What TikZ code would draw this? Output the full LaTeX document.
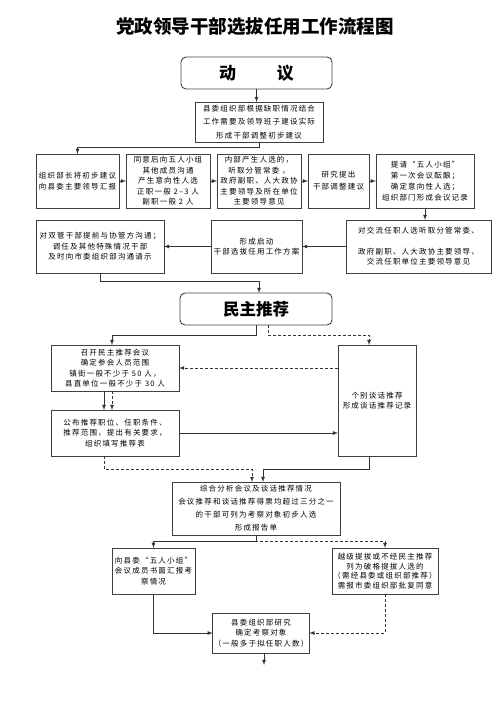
\documentclass[tikz,border=0pt]{standalone}
\usepackage{fontspec}
\setmainfont{Noto Sans CJK SC}
\newfontfamily\boxfont[LetterSpace=16]{Noto Sans CJK SC}
\usetikzlibrary{positioning}

\begin{document}
\begin{tikzpicture}
  [x=1pt,y=-1pt,
   boxN/.style={draw=black!75,line width=0.8pt,align=center,inner sep=1pt,outer sep=0pt,
     font=\boxfont\fontsize{7.5}{10.5}\selectfont},
   headN/.style={draw=black!75,line width=0.9pt,rounded corners=5pt,outer sep=0pt,
     minimum width=151pt,minimum height=32pt},
   rowA/.style={boxN,minimum height=54pt},
   rowB/.style={boxN,minimum height=53pt},
   arr/.style={-latex,line width=0.8pt,black!80},
   dsh/.style={arr,dash pattern=on 3pt off 2pt}]

  \useasboundingbox (0,0) rectangle (500,708);

  \node[font=\bfseries\fontsize{18.5}{20}\selectfont] (title) at (255,27) {党政领导干部选拔任用工作流程图};

  % 动议
  \node[headN,font=\bfseries\fontsize{17}{18}\selectfont] (dongyi) at (256.5,73) {动\hspace{2.4em}议};
  \node[boxN,minimum width=128pt,minimum height=40pt,font=\boxfont\fontsize{7.5}{13.3}\selectfont]
    (jianyi) at (259,122) {县委组织部根据缺职情况结合\\工作需要及领导班子建设实际\\形成干部调整初步建议};

  \node[rowA,minimum width=83pt] (huibao) at (77.5,181) {组织部长将初步建议\\向县委主要领导汇报};
  \node[rowA,minimum width=84pt,right=7pt of huibao] (goutong)
    {同意后向五人小组\\其他成员沟通\\产生意向性人选\\正职一般 2–3 人\\副职一般 2 人};
  \node[rowA,minimum width=84pt,right=7pt of goutong] (yijian)
    {内部产生人选的，\\听取分管常委 ，\\政府副职、人大政协\\主要领导及所在单位\\主要领导意见};
  \node[rowA,minimum width=61pt,right=7pt of yijian,font=\boxfont\fontsize{7.5}{12.3}\selectfont] (tichu)
    {研究提出\\干部调整建议};
  \node[rowA,minimum width=98pt,right=7pt of tichu,font=\boxfont\fontsize{7.5}{11}\selectfont] (yunniang)
    {提请“五人小组”\\第一次会议酝酿；\\确定意向性人选；\\组织部门形成会议记录};

  \node[rowB,minimum width=145pt] (jiaoliu) at (418.5,246.5)
    {对交流任职人选听取分管常委、\\[10pt]政府副职、人大政协主要领导、\\交流任职单位主要领导意见};
  \node[rowB,minimum width=91pt,left=44pt of jiaoliu] (fangan) {形成启动\\干部选拔任用工作方案};
  \node[rowB,minimum width=128pt,left=47pt of fangan] (qingshi)
    {对双管干部提前与协管方沟通；\\调任及其他特殊情况干部\\及时向市委组织部沟通请示};

  % 民主推荐
  \node[headN,minimum width=152pt,font=\bfseries\fontsize{16.5}{18}\selectfont] (minzhu) at (256,309) {民主推荐};
  \node[boxN,minimum width=128pt,minimum height=46pt] (huiyi) at (115,368)
    {召开民主推荐会议\\确定参会人员范围\\镇街一般不少于 50 人，\\县直单位一般不少于 30 人};
  \node[boxN,minimum width=128pt,minimum height=46pt] (gongbu) at (115,433)
    {公布推荐职位、任职条件、\\推荐范围，提出有关要求，\\组织填写推荐表};
  \node[boxN,minimum width=78pt,minimum height=111pt] (tanhua) at (377,400.5)
    {个别谈话推荐\\形成谈话推荐记录};

  \node[boxN,minimum width=168pt,minimum height=53pt,font=\boxfont\fontsize{7.5}{13}\selectfont] (fenxi) at (256,508.5)
    {综合分析会议及谈话推荐情况\\会议推荐和谈话推荐得票均超过三分之一\\的干部可列为考察对象初步人选\\形成报告单};
  \node[boxN,minimum width=83pt,minimum height=46pt] (wuren) at (153.5,571)
    {向县委“五人小组”\\会议成员书面汇报考\\察情况};
  \node[boxN,minimum width=106pt,minimum height=46pt,font=\boxfont\fontsize{7.5}{9.7}\selectfont] (poge) at (385,571)
    {越级提拔或不经民主推荐\\列为破格提拔人选的\\（需经县委或组织部推荐）\\需报市委组织部批复同意};
  \node[boxN,minimum width=96pt,minimum height=40pt] (duixiang) at (261,633)
    {县委组织部研究\\确定考察对象\\（一般多于拟任职人数）};

  % connectors
  \draw[arr] (dongyi.south) -- (dongyi.south |- jianyi.north);
  \draw[arr] (jianyi.south) -- ++(0,5) -| (huibao.north);
  \draw[arr] (huibao) -- (goutong);
  \draw[arr] (goutong) -- (yijian);
  \draw[arr] (yijian) -- (tichu);
  \draw[arr] (tichu) -- (yunniang);
  \draw[arr] (yunniang.south) -- (yunniang.south |- jiaoliu.north);
  \draw[arr] (jiaoliu) -- (fangan);
  \draw[arr] (fangan) -- (qingshi);
  \draw[arr] (qingshi.south) -- ++(0,8) -| ([xshift=3pt]minzhu.north);

  \draw[arr] (minzhu.south) -- ++(0,10) -| ([xshift=-3pt]huiyi.north);
  \draw[dsh] ([xshift=12pt]minzhu.south) -- ++(0,10) -| ([xshift=-8pt]tanhua.north);
  \draw[dsh] (tanhua.west |- huiyi.east) -- (huiyi.east);
  \draw[arr] ([xshift=-11pt]huiyi.south) -- ([xshift=-11pt]gongbu.north);
  \draw[dsh] ([xshift=-3pt]huiyi.south) -- ([xshift=-3pt]gongbu.north);
  \draw[arr] (gongbu.east) -- (gongbu.east -| tanhua.west);
  \draw[dsh] ([xshift=-11pt]gongbu.south) -- ++(0,13) -| ([xshift=-4pt]fenxi.north);
  \draw[arr] ([xshift=-8pt]tanhua.south) -- ++(0,13) -| ([xshift=7pt]fenxi.north);

  \draw[arr] (fenxi.south) -- ++(0,6) -| (wuren.north);
  \draw[dsh] (fenxi.south) -- ++(0,6) -| (poge.north);
  \draw[arr] (wuren.south) |- (duixiang.west);
  \draw[dsh] (poge.south) |- (duixiang.east);
  \draw[arr] ([xshift=3pt]duixiang.south) -- ++(0,12);

\end{tikzpicture}
\end{document}
